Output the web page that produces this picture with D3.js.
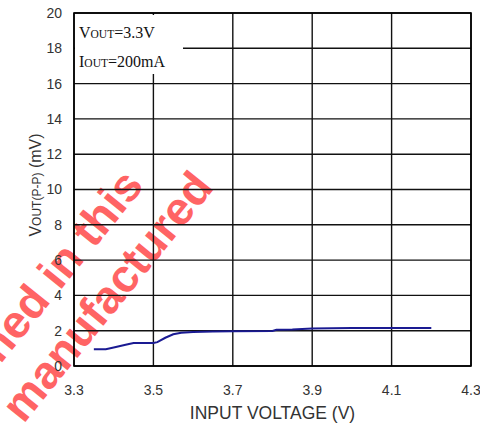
<!DOCTYPE html>
<html>
  <head>
    <meta charset="utf-8">
    <title>Ripple vs Input Voltage</title>
    <style>
      body { margin: 0; background: #fff; }
      svg { display: block; }
    </style>
  </head>
  <body>
    <div id="chart"></div>
    <script src="https://cdn.jsdelivr.net/npm/d3@7"></script>
    <script>

        var width = 480;
        var height = 426;

        var inputV = [3.35, 3.38, 3.40, 3.43, 3.45, 3.50, 3.51, 3.53, 3.55, 3.57, 3.60, 3.65, 3.70, 3.80, 3.81, 3.85, 3.90, 4.00, 4.10, 4.20];
        var ripple = [0.95, 0.95, 1.05, 1.20, 1.30, 1.30, 1.35, 1.60, 1.80, 1.88, 1.93, 1.95, 1.97, 1.98, 2.05, 2.07, 2.13, 2.15, 2.15, 2.15];
        var xTicks = [3.3, 3.5, 3.7, 3.9, 4.1, 4.3];
        var yTicks = [0, 2, 4, 6, 8, 10, 12, 14, 16, 18, 20];

        var margin = {left: 74, right: 9, top: 13, bottom: 60};

        var x = d3.scaleLinear().domain([3.3, 4.3]).range([margin.left, width - margin.right]);
        var y = d3.scaleLinear().domain([0, 20]).range([height - margin.bottom, margin.top]);

        var svg = d3.select('#chart')
          .append('svg')
          .attr('width', width)
          .attr('height', height);

        svg.append('rect').attr('width', width).attr('height', height).attr('fill', '#fff');

        // watermark sits under everything else
        var wm = svg.append('g')
          .attr('fill', '#ff6464')
          .style('font', 'bold 46px "Liberation Sans", Arial, sans-serif')
          .attr('text-anchor', 'end');
        wm.append('text')
          .attr('transform', 'translate(145,186) rotate(-51)')
          .text('ned in this');
        wm.append('text')
          .attr('transform', 'translate(215,188) rotate(-51)')
          .text('manufactured');

        // grid
        svg.append('g').selectAll('line')
          .data(yTicks)
          .enter()
          .append('line')
          .attr('x1', x(3.3)).attr('x2', x(4.3))
          .attr('y1', function(d) { return y(d); })
          .attr('y2', function(d) { return y(d); })
          .attr('stroke', '#111')
          .attr('stroke-width', 1.4);

        svg.append('g').selectAll('line')
          .data(xTicks)
          .enter()
          .append('line')
          .attr('y1', y(0)).attr('y2', y(20))
          .attr('x1', function(d) { return x(d); })
          .attr('x2', function(d) { return x(d); })
          .attr('stroke', '#111')
          .attr('stroke-width', 1.4);

        // box behind the conditions text
        svg.append('rect')
          .attr('x', x(3.3) + 1).attr('y', y(20) + 2)
          .attr('width', 108).attr('height', 59)
          .attr('fill', '#fff');

        svg.append('rect')
          .attr('x', x(3.3)).attr('y', y(20))
          .attr('width', x(4.3) - x(3.3)).attr('height', y(0) - y(20))
          .attr('fill', 'none')
          .attr('stroke', '#000')
          .attr('stroke-width', 1.6);

        // tick labels
        svg.append('g').selectAll('text')
          .data(yTicks)
          .enter()
          .append('text')
          .attr('x', 62)
          .attr('y', function(d) { return y(d); })
          .attr('dy', '0.35em')
          .attr('text-anchor', 'end')
          .style('font', '14px "Liberation Sans", Arial, sans-serif')
          .attr('fill', '#333')
          .text(function(d) { return d; });

        svg.append('g').selectAll('text')
          .data(xTicks)
          .enter()
          .append('text')
          .attr('x', function(d) { return x(d); })
          .attr('y', 395)
          .attr('text-anchor', 'middle')
          .style('font', '14px "Liberation Sans", Arial, sans-serif')
          .attr('fill', '#333')
          .text(function(d) { return d.toFixed(1); });

        // axis titles
        svg.append('text')
          .attr('x', (x(3.3) + x(4.3)) / 2)
          .attr('y', 419)
          .attr('text-anchor', 'middle')
          .style('font', '17.5px "Liberation Sans", Arial, sans-serif')
          .attr('fill', '#333')
          .text('INPUT VOLTAGE (V)');

        var yl = svg.append('text')
          .attr('transform', 'translate(41,185) rotate(-90)')
          .attr('text-anchor', 'middle')
          .style('font', '16px "Liberation Sans", Arial, sans-serif')
          .attr('fill', '#333');
        yl.append('tspan').text('V');
        yl.append('tspan').style('font-size', '12px').text('OUT(P-P)');
        yl.append('tspan').text(' (mV)');

        // conditions
        var cond = [['V', 'OUT', '=3.3V'], ['I', 'OUT', '=200mA']];
        svg.append('g').selectAll('text')
          .data(cond)
          .enter()
          .append('text')
          .attr('x', 79)
          .attr('y', function(d, i) { return 38 + i * 29; })
          .style('font', '16px "Liberation Serif", "Times New Roman", serif')
          .attr('fill', '#111')
          .each(function(d) {
            var t = d3.select(this);
            t.append('tspan').text(d[0]);
            t.append('tspan').style('font-size', '11.5px').text(d[1]);
            t.append('tspan').text(d[2]);
          });

        // data line
        var line = d3.line()
          .x(function(d) { return x(d[0]); })
          .y(function(d) { return y(d[1]); });

        svg.append('path')
          .datum(d3.zip(inputV, ripple))
          .attr('d', line)
          .attr('fill', 'none')
          .attr('stroke', '#1a1a92')
          .attr('stroke-width', 2);

    </script>
  </body>
</html>
